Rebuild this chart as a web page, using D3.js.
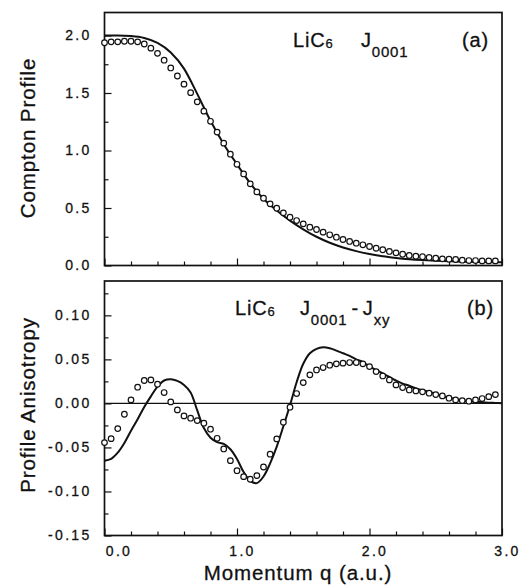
<!DOCTYPE html>
<html lang="en">
<head>
<meta charset="utf-8">
<script src="https://d3js.org/d3.v7.min.js"></script>
<style>
    body { margin: 0; background: #fff; }
    svg { font-family: 'Liberation Sans', Arial, sans-serif; }
    text { stroke: #111; stroke-width: 0.3px; }
    .frame { fill: none; stroke: #111; stroke-width: 1.7px; }
    .axis text { font-size: 14px; letter-spacing: 2.3px; fill: #111; }
    .axis line { stroke: #111; stroke-width: 1.2px; }
    .axis .domain { display: none; }
    .curve { fill: none; stroke: #111; stroke-width: 2px; }
    .dot { fill: #fff; stroke: #111; stroke-width: 1.2px; }
    .zero { stroke: #111; stroke-width: 1.3px; }
    .ylabel, .xlabel { font-size: 20.5px; fill: #111; letter-spacing: 0.9px; }
    .plabel { font-size: 20px; fill: #111; letter-spacing: 0.8px; }
</style>
</head>
<body>
<script>
// measured points, q = momentum (a.u.)
var qPts = [0, 0.05, 0.1, 0.15, 0.2, 0.25, 0.3, 0.35, 0.4, 0.45,
    0.5, 0.55, 0.6, 0.65, 0.7, 0.75, 0.8, 0.85, 0.9, 0.95,
    1.0, 1.05, 1.1, 1.15, 1.2, 1.25, 1.3, 1.35, 1.4, 1.45,
    1.5, 1.55, 1.6, 1.65, 1.7, 1.75, 1.8, 1.85, 1.9, 1.95,
    2.0, 2.05, 2.1, 2.15, 2.2, 2.25, 2.3, 2.35, 2.4, 2.45,
    2.5, 2.55, 2.6, 2.65, 2.7, 2.75, 2.8, 2.85, 2.9, 2.95];

// (a) J0001 experiment
var profExp = [1.937, 1.945, 1.945, 1.95, 1.95, 1.945, 1.926, 1.89, 1.845, 1.785,
    1.718, 1.648, 1.577, 1.503, 1.423, 1.342, 1.254, 1.16, 1.064, 0.968,
    0.88, 0.796, 0.71, 0.64, 0.585, 0.536, 0.498, 0.458, 0.42, 0.391,
    0.362, 0.333, 0.313, 0.29, 0.267, 0.246, 0.226, 0.209, 0.194, 0.18,
    0.165, 0.15, 0.137, 0.122, 0.11, 0.098, 0.087, 0.081, 0.076, 0.07,
    0.063, 0.058, 0.055, 0.052, 0.046, 0.043, 0.043, 0.04, 0.04, 0.04];

// (b) J0001 - Jxy experiment
var anisoExp = [-0.0445, -0.040, -0.0286, -0.0123, 0.004, 0.0184, 0.026, 0.0267, 0.0218, 0.0123,
    0.0017, -0.0074, -0.0142, -0.0168, -0.0195, -0.0225, -0.0293, -0.0396, -0.0517, -0.065,
    -0.0764, -0.0832, -0.0861, -0.082, -0.0722, -0.0577, -0.0403, -0.0214, -0.0043, 0.0112,
    0.0236, 0.0324, 0.038, 0.0407, 0.0434, 0.0449, 0.0457, 0.0464, 0.0464, 0.0449,
    0.0418, 0.0361, 0.0312, 0.0267, 0.021, 0.018, 0.0153, 0.0142, 0.0131, 0.0116,
    0.01, 0.0085, 0.0059, 0.004, 0.0032, 0.0025, 0.004, 0.0055, 0.0077, 0.01];

// (a) theory curve
var qProfTh = [0, 0.1, 0.2, 0.3, 0.4, 0.5, 0.6, 0.7, 0.8, 0.9,
    1.0, 1.1, 1.2, 1.3, 1.4, 1.5, 1.6, 1.7, 1.8, 1.9,
    2.0, 2.1, 2.2, 2.3, 2.4, 2.5, 2.6, 2.7, 2.8, 2.9, 3.0];
var profTh = [2.0, 2.0, 1.995, 1.978, 1.935, 1.852, 1.712, 1.492, 1.258, 1.055,
    0.88, 0.715, 0.58, 0.478, 0.39, 0.315, 0.25, 0.198, 0.157, 0.125,
    0.1, 0.08, 0.066, 0.055, 0.047, 0.041, 0.037, 0.033, 0.031, 0.029, 0.028];

// (b) theory curve
var qAnisoTh = [0, 0.05, 0.1, 0.15, 0.2, 0.25, 0.3, 0.35, 0.4, 0.45,
    0.5, 0.55, 0.6, 0.65, 0.7, 0.75, 0.8, 0.85, 0.9, 0.95,
    1.0, 1.05, 1.1, 1.15, 1.2, 1.25, 1.3, 1.35, 1.4, 1.45,
    1.5, 1.55, 1.6, 1.65, 1.7, 1.75, 1.8, 1.85, 1.9, 1.95,
    2.0, 2.05, 2.1, 2.15, 2.2, 2.25, 2.3, 2.35, 2.4, 2.45,
    2.5, 2.55, 2.6, 2.65, 2.7, 2.75, 2.8, 2.85, 2.9, 2.95, 3.0];
var anisoTh = [-0.065, -0.063, -0.056, -0.045, -0.031, -0.018, -0.004, 0.008, 0.019, 0.026,
    0.0275, 0.0255, 0.021, 0.0125, -0.008, -0.028, -0.039, -0.044, -0.046, -0.052,
    -0.063, -0.078, -0.088, -0.0905, -0.083, -0.068, -0.049, -0.026, -0.002, 0.024,
    0.045, 0.057, 0.062, 0.0638, 0.0627, 0.060, 0.057, 0.054, 0.050, 0.047,
    0.042, 0.038, 0.034, 0.030, 0.026, 0.0225, 0.020, 0.017, 0.015, 0.013,
    0.011, 0.0085, 0.0065, 0.005, 0.0035, 0.0025, 0.0018, 0.0012, 0.0008, 0.0005, 0.0003];

// tick values
var xMajor = [0, 1, 2, 3];
var xMinor = [0.2, 0.4, 0.6, 0.8, 1.2, 1.4, 1.6, 1.8, 2.2, 2.4, 2.6, 2.8];
var yaMajor = [0, 0.5, 1.0, 1.5, 2.0];
var yaMinor = [0.25, 0.75, 1.25, 1.75];
var ybMajor = [-0.15, -0.10, -0.05, 0, 0.05, 0.10];
var ybMinor = [-0.125, -0.075, -0.025, 0.025, 0.075, 0.125];

var width = 521, height = 586;

var svg = d3.select("body").append("svg")
    .attr("width", width)
    .attr("height", height);

var x = d3.scaleLinear().domain([0, 3]).range([104.5, 502]);
var yA = d3.scaleLinear().domain([0, 2.2]).range([265.5, 12.5]);
var yB = d3.scaleLinear().domain([-0.15, 0.139]).range([535.5, 281]);

function panel(y, yMajor, yMinor, yFmt, showX) {
    var y0 = y.range()[0];
    // left ticks (inward)
    svg.append("g").attr("class", "axis")
        .attr("transform", "translate(" + x(0) + ",0)")
        .call(d3.axisLeft(y).tickValues(yMajor).tickSize(-7).tickPadding(13).tickFormat(yFmt));
    svg.append("g").attr("class", "axis")
        .attr("transform", "translate(" + x(0) + ",0)")
        .call(d3.axisLeft(y).tickValues(yMinor).tickSize(-4).tickFormat(""));
    // bottom ticks (inward)
    var xa = svg.append("g").attr("class", "axis")
        .attr("transform", "translate(0," + y0 + ")")
        .call(d3.axisBottom(x).tickValues(xMajor).tickSize(-7).tickPadding(11)
            .tickFormat(showX ? d3.format(".1f") : ""));
    xa.selectAll("text").attr("dx", function(d) { return d === 0 ? 14 : 5; });
    svg.append("g").attr("class", "axis")
        .attr("transform", "translate(0," + y0 + ")")
        .call(d3.axisBottom(x).tickValues(xMinor).tickSize(-4).tickFormat(""));
    // frame
    svg.append("rect").attr("class", "frame")
        .attr("x", x(0)).attr("y", y.range()[1])
        .attr("width", x(3) - x(0)).attr("height", y0 - y.range()[1]);
}

panel(yA, yaMajor, yaMinor, d3.format(".1f"), false);
panel(yB, ybMajor, ybMinor, function(d) { return d3.format(".2f")(d).replace("−", "-"); }, true);

// zero line in (b)
svg.append("line").attr("class", "zero")
    .attr("x1", x(0)).attr("x2", x(3))
    .attr("y1", yB(0)).attr("y2", yB(0));

// theory curves
var lineA = d3.line()
    .x(function(d, i) { return x(qProfTh[i]); })
    .y(function(d) { return yA(d); })
    .curve(d3.curveMonotoneX);
svg.append("path").attr("class", "curve").attr("d", lineA(profTh));

var lineB = d3.line()
    .x(function(d, i) { return x(qAnisoTh[i]); })
    .y(function(d) { return yB(d); })
    .curve(d3.curveCatmullRom);
svg.append("path").attr("class", "curve").attr("d", lineB(anisoTh));

// experimental points
svg.append("g").selectAll("circle")
    .data(profExp)
    .enter().append("circle")
    .attr("class", "dot")
    .attr("cx", function(d, i) { return x(qPts[i]); })
    .attr("cy", function(d) { return yA(d); })
    .attr("r", 2.8);

svg.append("g").selectAll("circle")
    .data(anisoExp)
    .enter().append("circle")
    .attr("class", "dot")
    .attr("cx", function(d, i) { return x(qPts[i]); })
    .attr("cy", function(d) { return yB(d); })
    .attr("r", 2.8);

// axis titles
svg.append("text").attr("class", "ylabel")
    .attr("transform", "translate(35,138) rotate(-90)")
    .attr("text-anchor", "middle")
    .text("Compton Profile");
svg.append("text").attr("class", "ylabel")
    .attr("transform", "translate(35,405) rotate(-90)")
    .attr("text-anchor", "middle")
    .text("Profile Anisotropy");
svg.append("text").attr("class", "xlabel")
    .attr("x", 298).attr("y", 579.5)
    .attr("text-anchor", "middle")
    .text("Momentum q (a.u.)");

// panel labels
var ta = svg.append("text").attr("class", "plabel").attr("x", 293).attr("y", 46.5);
ta.append("tspan").text("LiC");
ta.append("tspan").attr("font-size", 13).attr("dy", 1).text("6");
ta.append("tspan").attr("x", 361).attr("dy", -1).text("J");
ta.append("tspan").attr("font-size", 15).attr("dy", 10).text("0001");
svg.append("text").attr("class", "plabel").attr("x", 462).attr("y", 46.5).text("(a)");

var tb = svg.append("text").attr("class", "plabel").attr("x", 235).attr("y", 315);
tb.append("tspan").text("LiC");
tb.append("tspan").attr("font-size", 13).attr("dy", 1).text("6");
tb.append("tspan").attr("x", 300).attr("dy", -1).text("J");
tb.append("tspan").attr("font-size", 15).attr("dy", 10).text("0001");
tb.append("tspan").attr("dx", 4).attr("dy", -10).text("-");
tb.append("tspan").attr("dx", 4).text("J");
tb.append("tspan").attr("font-size", 15).attr("dy", 10).text("xy");
svg.append("text").attr("class", "plabel").attr("x", 467).attr("y", 315).text("(b)");
</script>
</body>
</html>
